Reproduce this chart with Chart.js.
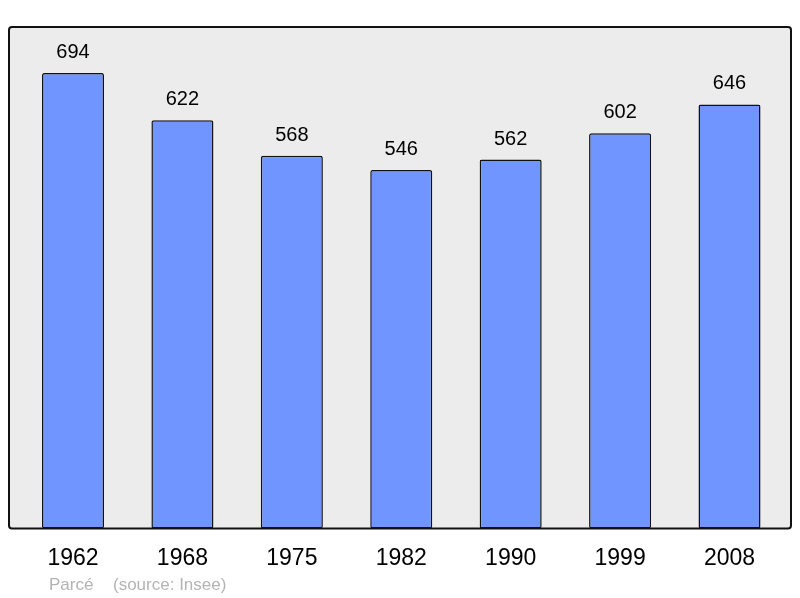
<!DOCTYPE html>
<html><head><meta charset="utf-8">
<script src="https://cdn.jsdelivr.net/npm/chart.js@4"></script>
<style>html,body{margin:0;padding:0;background:#fff}#wrap{width:800px;height:598px}</style>
</head><body><div id="wrap"><canvas id="c" width="800" height="598"></canvas></div>
<script>
const years = ['1962','1968','1975','1982','1990','1999','2008'];
const population = [694, 622, 568, 546, 562, 602, 646];
const footer = ['Parcé', '(source: Insee)'];

const framePlugin = {
  id: 'frame',
  beforeDatasetsDraw(chart) {
    const {ctx, chartArea: a} = chart;
    ctx.save();
    ctx.fillStyle = '#ececec';
    ctx.beginPath();
    ctx.roundRect(a.left, a.top, a.right - a.left, a.bottom - a.top, 3);
    ctx.fill();
    ctx.restore();
  },
  afterDatasetsDraw(chart) {
    const {ctx, chartArea: a} = chart;
    ctx.save();
    ctx.strokeStyle = '#111';
    ctx.lineWidth = 2;
    ctx.beginPath();
    ctx.roundRect(a.left, a.top, a.right - a.left, a.bottom - a.top, 3);
    ctx.stroke();
    const meta = chart.getDatasetMeta(0);
    ctx.fillStyle = '#000';
    ctx.font = '20px "Liberation Sans", Arial, sans-serif';
    ctx.textAlign = 'center';
    ctx.textBaseline = 'alphabetic';
    meta.data.forEach((el, i) => {
      ctx.fillText(String(population[i]), el.x, el.y - 15);
    });
    ctx.fillStyle = '#b4b4b4';
    ctx.font = '17px "Liberation Sans", Arial, sans-serif';
    ctx.textAlign = 'left';
    ctx.fillText(footer[0], 49, 590);
    ctx.fillText(footer[1], 113, 590);
    ctx.restore();
  }
};

new Chart(document.getElementById('c'), {
  type: 'bar',
  data: {
    datasets: [{
      data: population.map((v, i) => ({x: i, y: v})),
      backgroundColor: '#7095ff',
      borderColor: '#111',
      borderWidth: 1.5,
      borderRadius: 2,
      borderSkipped: false,
      categoryPercentage: 1,
      barPercentage: 0.567
    }]
  },
  plugins: [framePlugin],
  options: {
    responsive: false,
    animation: false,
    devicePixelRatio: 1,
    layout: {padding: {left: 9, right: 9, top: 27, bottom: 10}},
    plugins: {legend: {display: false}, tooltip: {enabled: false}},
    scales: {
      x: {
        type: 'linear',
        offset: false,
        min: -0.585,
        max: 6.562,
        grid: {display: false, drawTicks: false, offset: false},
        border: {display: false},
        afterBuildTicks(scale) { scale.ticks = years.map((_, i) => ({value: i})); },
        ticks: {
          autoSkip: false, maxRotation: 0, padding: 16,
          color: '#000',
          font: {family: '"Liberation Sans", Arial, sans-serif', size: 23},
          callback: (v) => years[v]
        }
      },
      y: {display: false, min: 0, max: 764}
    }
  }
});
</script></body></html>
